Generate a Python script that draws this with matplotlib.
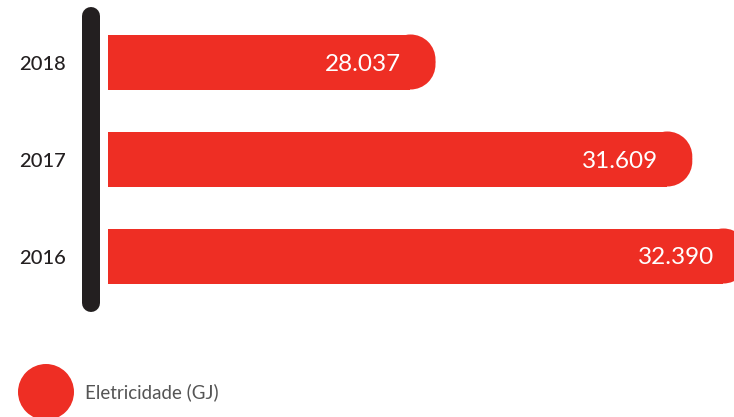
import matplotlib
matplotlib.use("Agg")
import matplotlib.pyplot as plt
from matplotlib.patches import Rectangle, Ellipse, Circle

years = ["2018", "2017", "2016"]
values = [28037, 31609, 32390]
value_labels = ["28.037", "31.609", "32.390"]
legend_label = "Eletricidade (GJ)"

RED = "#ee2e24"
DARK = "#231f20"
FONT = ["Lato", "DejaVu Sans"]

W, H = 734, 417
fig = plt.figure(figsize=(W / 100, H / 100), dpi=100)
fig.patch.set_facecolor("white")

# data axes: x in GJ (truncated scale), y in pixels
ax = fig.add_axes([0, 0, 1, 1])
XMIN, XMAX = 21980, 32189
ax.set_xlim(XMIN, XMAX)
ax.set_ylim(H, 0)
ax.axis("off")
px = (XMAX - XMIN) / W  # data units per pixel
BASE = XMIN + 108 * px

# overlay axes in pixel units for decorations
ov = fig.add_axes([0, 0, 1, 1])
ov.set_xlim(0, W)
ov.set_ylim(H, 0)
ov.axis("off")
ov.set_zorder(3)

bar_h = 55
r = 25
for i, (yr, v, lab) in enumerate(zip(years, values, value_labels)):
    yc = 62 + 97 * i
    top, bot = yc - bar_h / 2, yc + bar_h / 2
    xe = v - r * px
    kw = dict(facecolor=RED, edgecolor="none", linewidth=0)
    ax.add_patch(Rectangle((BASE, top), xe - BASE, bar_h, **kw))
    ax.add_patch(Rectangle((xe, top + r), r * px, bar_h - 2 * r, **kw))
    ax.add_patch(Ellipse((xe, top + r), 2 * r * px, 2 * r, **kw))
    ax.add_patch(Ellipse((xe, bot - r), 2 * r * px, 2 * r, **kw))
    ax.annotate(lab, xy=(v, yc + 8.5), xytext=(-34, 0), textcoords="offset pixels",
                ha="right", va="baseline", color="white", fontsize=17.5,
                family=FONT, annotation_clip=False)
    ov.text(19, yc + 7.5, yr, ha="left", va="baseline", color=DARK,
            fontsize=14.5, family=FONT, fontweight="medium")

# vertical axis line
ov.plot([91, 91], [16, 303], color=DARK, linewidth=18 * 72 / 100,
        solid_capstyle="round")

# legend
ov.add_patch(Circle((46, 392), 28, facecolor=RED, edgecolor="none"))
ov.text(85, 392 + 6, legend_label, ha="left", va="baseline", color="#555555",
        fontsize=13.5, family=FONT, fontweight="normal")

fig.savefig("out.png", dpi=100)
